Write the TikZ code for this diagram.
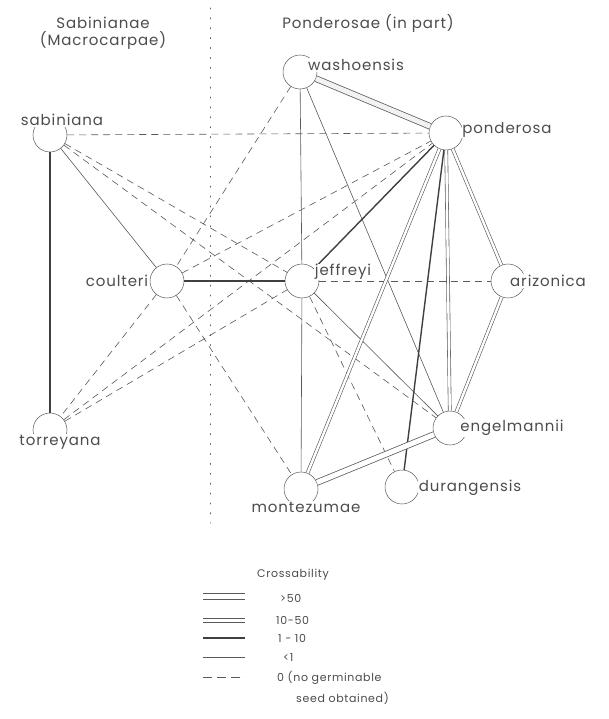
\documentclass[tikz,border=0pt]{standalone}
\usepackage{fontspec}
\setmainfont{Poppins}
\newfontfamily\labfont[LetterSpace=6]{Poppins}
\definecolor{linecol}{gray}{0.35}
\definecolor{textcol}{gray}{0.3}
\tikzset{
  lt/.style={draw=linecol, line width=0.6pt},
  thk/.style={draw=black!75, line width=1.4pt},
  dbl/.style={draw=linecol, line width=0.6pt, double=white, double distance=2.4pt},
  band/.style={draw=linecol, line width=0.75pt, double=black!5, double distance=5pt},
  dsh/.style={draw=linecol, line width=0.6pt, dash pattern=on 7pt off 5pt},
  legline/.style={draw=linecol, line width=0.7pt},
  spc/.style={circle, draw=linecol, fill=white, minimum size=34pt, inner sep=0pt, line width=0.5pt},
  lab/.style={font=\labfont\fontsize{15}{17}\selectfont, text=textcol, fill=white, inner sep=0.8pt},
  head/.style={font=\labfont\fontsize{15}{17}\selectfont, text=textcol, align=center},
  leg/.style={font=\labfont\fontsize{11}{13}\selectfont, text=textcol, anchor=west, inner sep=0pt}
}
\begin{document}
\begin{tikzpicture}[x=1pt,y=-1pt]
\useasboundingbox (0,0) rectangle (609,719);
\fill[white] (0,0) rectangle (609,719);
% dotted divider
\coordinate (dvt) at (210,8);
\coordinate (dvb) at (210,523);
\draw[linecol, line width=0.9pt, dash pattern=on 0.9pt off 9pt, line cap=round] (dvt) -- (dvb);
% headings
\node[head] (h1) at (103,33) {Sabinianae\\(Macrocarpae)};
\node[head] (h2) at (368,23) {Ponderosae (in part)};
% species circles
\node[spc] (sab) at (50,135) {};
\node[spc] (wash) at (300,72) {};
\node[spc] (pond) at (446,133) {};
\node[spc] (coul) at (167,281) {};
\node[spc] (jeff) at (302,281) {};
\node[spc] (ariz) at (508,281) {};
\node[spc] (eng) at (450,428) {};
\node[spc] (dur) at (402,487) {};
\node[spc] (mont) at (301,489) {};
\node[spc] (torr) at (50,430) {};
% connectors: 0
\draw[dsh] (sab) -- (pond);
\draw[dsh] (sab) -- (jeff);
\draw[dsh] (sab) -- (eng);
\draw[dsh] (wash) -- (coul);
\draw[dsh] (coul) -- (torr);
\draw[dsh] (coul) -- (mont);
\draw[dsh] (coul) -- (pond);
\draw[dsh] (torr) -- (jeff);
\draw[dsh] (torr) -- (pond);
\draw[dsh] (jeff) -- (ariz);
\draw[dsh] (jeff) -- (dur);
% <1
\draw[lt] (sab) -- (coul);
\draw[lt] (wash) -- (jeff);
\draw[lt] (jeff) -- (mont);
\draw[lt] (wash) -- (eng);
\draw[lt] (jeff) -- (eng);
% 1-10
\draw[thk] (sab) -- (torr);
\draw[thk] (coul) -- (jeff);
\draw[thk] (jeff) -- (pond);
\draw[thk] (pond) -- (dur);
% 10-50
\draw[dbl] (pond) -- (mont);
\draw[dbl] (pond) -- (eng);
\draw[dbl] (pond) -- (ariz);
\draw[dbl] (ariz) -- (eng);
% >50
\draw[band] (wash) -- (pond);
\draw[band, double=white] (mont) -- (eng);
% labels
\node[lab] (lsab) at (62,120) {sabiniana};
\node[lab] (lwash) at (356,65) {washoensis};
\node[lab] (lpond) at (507,130) {ponderosa};
\node[lab] (lcoul) at (117,281) {coulteri};
\node[lab] (ljeff) at (343,272) {jeffreyi};
\node[lab] (lariz) at (548,281) {arizonica};
\node[lab] (leng) at (512,428) {engelmannii};
\node[lab] (ldur) at (470,488) {durangensis};
\node[lab] (lmont) at (306,507) {montezumae};
\node[lab] (ltorr) at (60,442) {torreyana};
% legend
\node[font=\labfont\fontsize{11}{13}\selectfont, text=textcol] (lt0) at (293,575) {Crossability};
\coordinate (a1) at (203,593); \coordinate (b1) at (245,593);
\coordinate (c1) at (203,599); \coordinate (d1) at (245,599);
\coordinate (a2) at (203,618); \coordinate (b2) at (245,618);
\coordinate (c2) at (203,622); \coordinate (d2) at (245,622);
\coordinate (a3) at (203,638); \coordinate (b3) at (245,638);
\coordinate (a4) at (203,657); \coordinate (b4) at (245,657);
\coordinate (a5) at (203,677); \coordinate (b5) at (245,677);
\draw[legline] (a1) -- (b1);
\draw[legline] (c1) -- (d1);
\draw[legline] (a2) -- (b2);
\draw[legline] (c2) -- (d2);
\draw[thk, line width=1.6pt] (a3) -- (b3);
\draw[legline] (a4) -- (b4);
\draw[dsh, dash pattern=on 9pt off 5pt] (a5) -- (b5);
\node[leg] (l1) at (280,598) {>50};
\node[leg] (l2) at (276,620) {10-50};
\node[leg] (l3) at (278,638) {1 - 10};
\node[leg] (l4) at (283,658) {<1};
\node[leg] (l5) at (277,678) {0 (no germinable};
\node[leg] (l6) at (296,698) {seed obtained)};
\end{tikzpicture}
\end{document}
